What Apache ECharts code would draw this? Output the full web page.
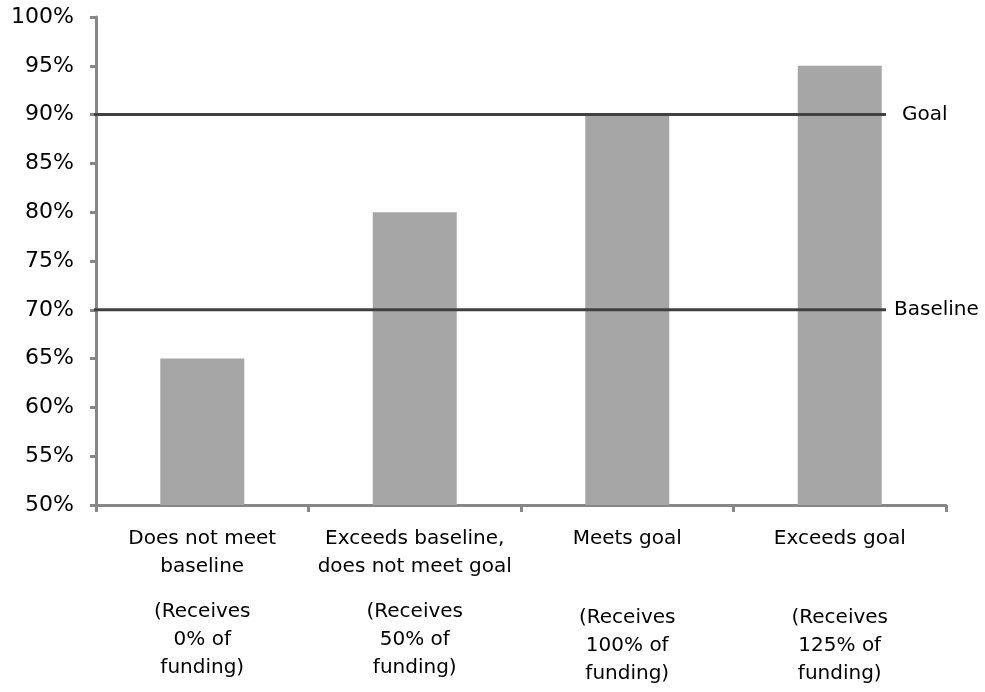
<!DOCTYPE html>
<html>
<head>
<meta charset="utf-8">
<script src="https://cdn.jsdelivr.net/npm/echarts@6/dist/echarts.min.js"></script>
<style>
  html, body { margin: 0; padding: 0; background: #fff; }
  #chart { width: 985px; height: 692px; }
</style>
</head>
<body>
<div id="chart"></div>
<script>
// Performance tiers and what share of funding each one receives
const tierNames = [
  ['Does not meet', 'baseline'],
  ['Exceeds baseline,', 'does not meet goal'],
  ['Meets goal'],
  ['Exceeds goal']
];
const fundingNotes = [
  ['(Receives', '0% of', 'funding)'],
  ['(Receives', '50% of', 'funding)'],
  ['(Receives', '100% of', 'funding)'],
  ['(Receives', '125% of', 'funding)']
];
const scores = [65, 80, 90, 95];
const goalLevel = 90;
const baselineLevel = 70;
const yTicks = { min: 50, max: 100, step: 5 };

const FONT = 'DejaVu Sans';

// Category labels are rich text: tier name, a spacer, then the funding note
const categories = tierNames.map(n => n.join(' / '));
function categoryLabel(value, idx) {
  const title = tierNames[idx].map(s => '{t|' + s + '}');
  const gap = tierNames[idx].length === 1 ? '{g2| }' : '{g1| }';
  const notes = fundingNotes[idx].map(s => '{f|' + s + '}');
  return title.concat([gap]).concat(notes).join('\n');
}

const chart = echarts.init(document.getElementById('chart'), null, { renderer: 'canvas' });

const textBase = { fontFamily: FONT, fontSize: 20, color: '#000' };

function refLine(name, level, labelDistance) {
  return {
    type: 'line',
    name: name,
    xAxisIndex: 1,
    yAxisIndex: 1,
    data: [[0, level], [1, level]],
    symbol: 'none',
    silent: true,
    lineStyle: { color: '#404040', width: 3 },
    z: 5,
    endLabel: {
      show: true,
      formatter: name,
      distance: labelDistance,
      fontFamily: FONT,
      fontSize: 20,
      color: '#000'
    }
  };
}

chart.setOption({
  animation: false,
  backgroundColor: '#fff',
  grid: [
    { left: 96, right: 39, top: 17, bottom: 187 },
    { left: 94, right: 99, top: 17, bottom: 187 }
  ],
  xAxis: [
    {
      type: 'category',
      gridIndex: 0,
      data: categories,
      axisLine: { lineStyle: { color: '#878787', width: 3 } },
      axisTick: { show: true, length: 7, lineStyle: { color: '#878787', width: 3 } },
      axisLabel: {
        interval: 0,
        margin: 20,
        formatter: categoryLabel,
        rich: {
          t: Object.assign({ lineHeight: 28 }, textBase),
          f: Object.assign({ lineHeight: 28 }, textBase),
          g1: Object.assign({ lineHeight: 17 }, textBase, { fontSize: 10 }),
          g2: Object.assign({ lineHeight: 51 }, textBase, { fontSize: 10 })
        }
      }
    },
    {
      type: 'value',
      gridIndex: 1,
      min: 0,
      max: 1,
      show: false
    }
  ],
  yAxis: [
    {
      type: 'value',
      gridIndex: 0,
      min: yTicks.min,
      max: yTicks.max,
      interval: yTicks.step,
      axisLine: { show: true, lineStyle: { color: '#878787', width: 3 } },
      axisTick: { show: true, length: 6, lineStyle: { color: '#878787', width: 3 } },
      splitLine: { show: false },
      axisLabel: Object.assign({ margin: 22, formatter: v => v + '%' }, textBase, { fontSize: 22 })
    },
    {
      type: 'value',
      gridIndex: 1,
      min: yTicks.min,
      max: yTicks.max,
      show: false
    }
  ],
  series: [
    {
      type: 'bar',
      xAxisIndex: 0,
      yAxisIndex: 0,
      data: scores,
      barWidth: 84,
      silent: true,
      itemStyle: { color: '#a6a6a6', borderWidth: 0 },
      z: 2
    },
    refLine('Goal', goalLevel, 16),
    refLine('Baseline', baselineLevel, 8)
  ]
});
</script>
</body>
</html>
